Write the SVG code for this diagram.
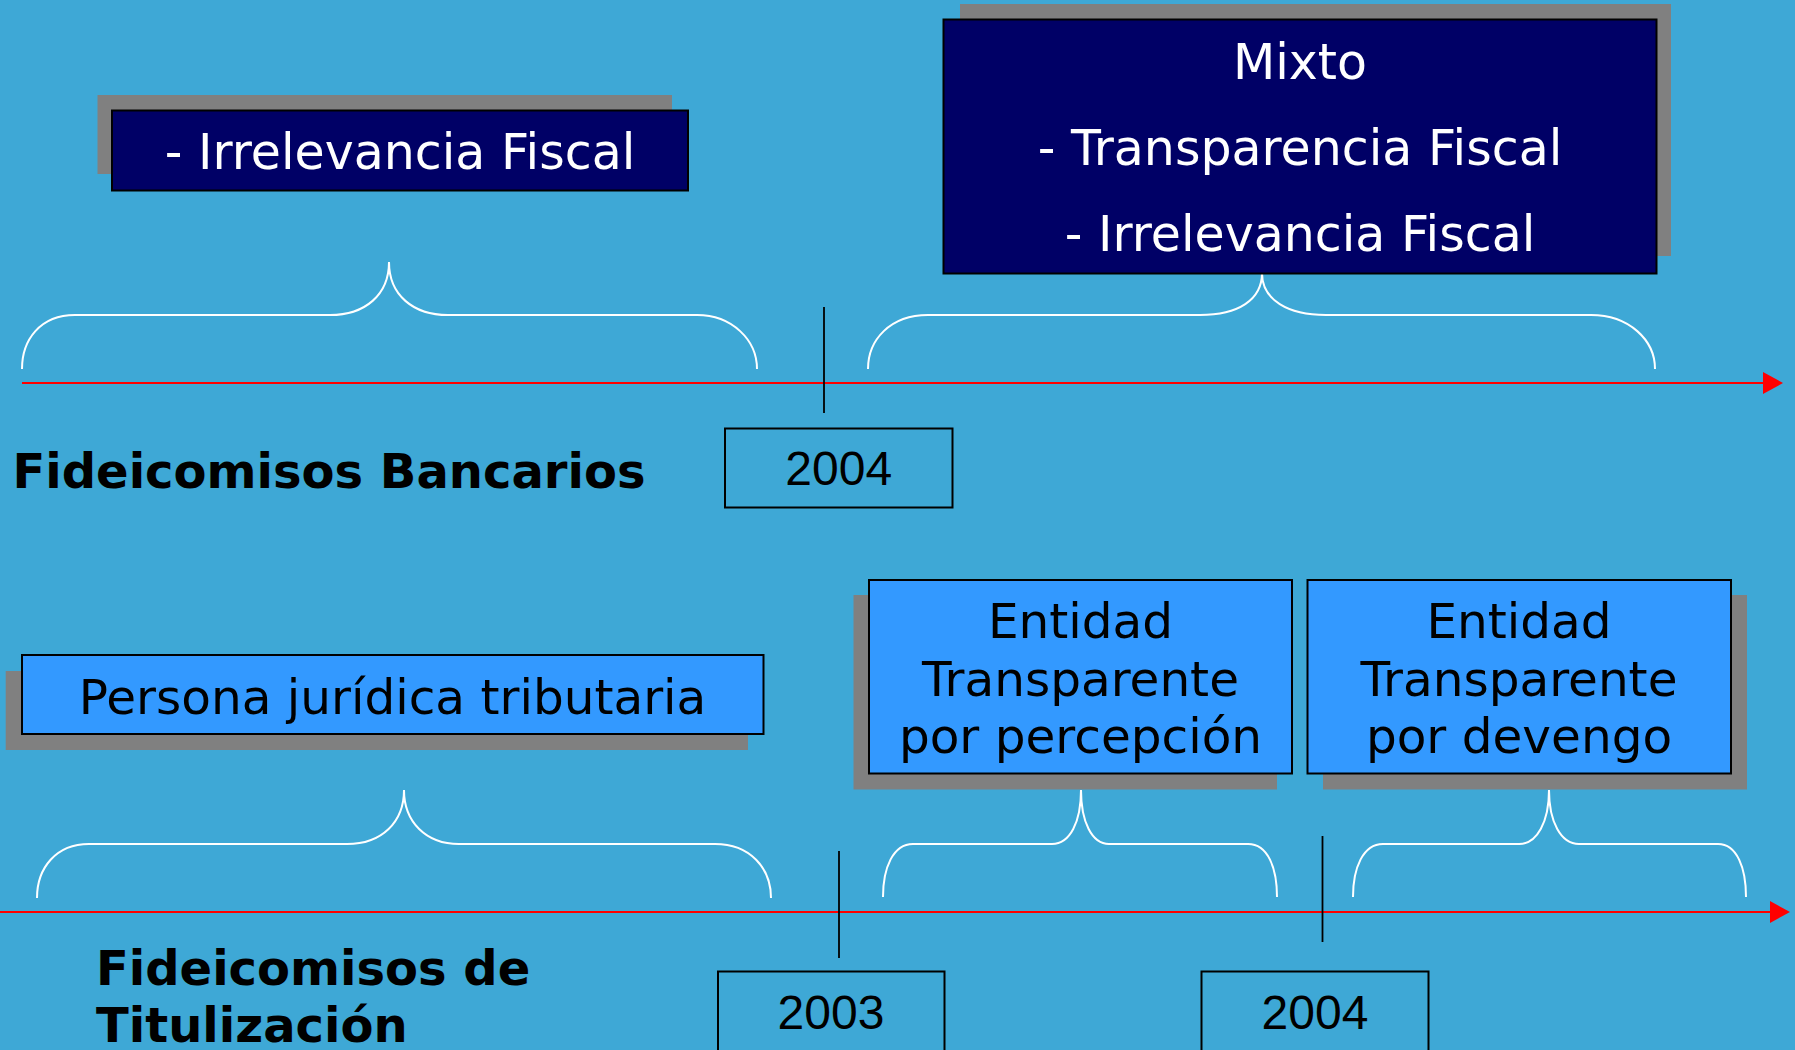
<svg xmlns="http://www.w3.org/2000/svg" width="1795" height="1050" viewBox="0 0 1795 1050">
<style>
.shadow{fill:#808080}
.navy{fill:#000066;stroke:#000;stroke-width:2}
.light{fill:#3399FF;stroke:#000;stroke-width:2}
.year{fill:none;stroke:#000;stroke-width:2}
.wt{font-family:"DejaVu Sans",Verdana,sans-serif;font-size:49px;fill:#fff;text-anchor:middle}
.bt{font-family:"DejaVu Sans",Verdana,sans-serif;font-size:48.5px;fill:#000;text-anchor:middle}
.yt{font-family:"Liberation Sans",Arial,sans-serif;font-size:48px;fill:#000;text-anchor:middle}
.title{font-family:"DejaVu Sans",Verdana,sans-serif;font-size:48px;font-weight:bold;fill:#000}
.axis{stroke:#FF0000;stroke-width:2;fill:none}
.tick{stroke:#000;stroke-width:1.8;fill:none}
.brace{stroke:#fff;stroke-width:2;fill:none}
</style>
<defs>
<marker id="arrow" markerUnits="userSpaceOnUse" markerWidth="20" markerHeight="22" refX="0" refY="11" orient="auto">
<path d="M0,0 L20,11 L0,22 z" fill="#FF0000"/>
</marker>
</defs>
<rect x="0" y="0" width="1795" height="1050" fill="#3EA8D6"/>

<g id="connectors">
<line class="axis" x1="22" y1="383" x2="1763" y2="383" marker-end="url(#arrow)"/>
<line class="axis" x1="0" y1="912" x2="1770" y2="912" marker-end="url(#arrow)"/>
<line class="tick" x1="824" y1="307" x2="824" y2="413"/>
<line class="tick" x1="839" y1="851" x2="839" y2="958"/>
<line class="tick" x1="1322.5" y1="836" x2="1322.5" y2="942"/>
<path class="brace" d="M22,369 C22,340 40,315 75,315 H330 C365,315 389,295 389,262 C389,295 413,315 448,315 H697 C732,315 757,340 757,369"/>
<path class="brace" d="M868,369 C868,340 890,315 928,315 H1200 C1238,315 1262,300 1262,273 C1262,300 1288,315 1326,315 H1591 C1629,315 1655,340 1655,369"/>
<path class="brace" d="M37,898 C37,868 56,844 89,844 H347 C382,844 404,822 404,790 C404,822 426,844 459,844 H715 C750,844 771,868 771,898"/>
<path class="brace" d="M883,897 C883,868 893,844 913,844 H1052 C1070,844 1081,822 1081,790 C1081,822 1092,844 1109,844 H1248 C1268,844 1277,868 1277,897"/>
<path class="brace" d="M1353,897 C1353,868 1363,844 1383,844 H1519 C1537,844 1549,822 1549,790 C1549,822 1561,844 1579,844 H1718 C1737,844 1746,868 1746,897"/>
</g>

<g id="node-irrelevancia">
<rect class="shadow" x="97.5" y="95" width="574.5" height="79"/>
<rect class="navy" x="112" y="110.5" width="576" height="80"/>
<text class="wt" x="400" y="169">- Irrelevancia Fiscal</text>
</g>

<g id="node-mixto">
<rect class="shadow" x="960" y="4" width="711" height="252"/>
<rect class="navy" x="943.5" y="19.5" width="713" height="254"/>
<text class="wt" x="1300" y="79">Mixto</text>
<text class="wt" x="1300" y="165">- Transparencia Fiscal</text>
<text class="wt" x="1300" y="251">- Irrelevancia Fiscal</text>
</g>

<g id="node-year-2004-bancarios">
<rect class="year" x="725" y="428.5" width="227.5" height="79"/>
<text class="yt" x="838.7" y="485">2004</text>
</g>

<g id="node-title-bancarios">
<text class="title" x="12.5" y="488">Fideicomisos Bancarios</text>
</g>

<g id="node-persona">
<rect class="shadow" x="5.7" y="671" width="742.3" height="79"/>
<rect class="light" x="22" y="655" width="741.5" height="79"/>
<text class="bt" x="392.5" y="714">Persona jurídica tributaria</text>
</g>

<g id="node-percepcion">
<rect class="shadow" x="853.5" y="595" width="423.5" height="194.5"/>
<rect class="light" x="869" y="580" width="423" height="193.5"/>
<text class="bt" x="1080.5" y="638">Entidad</text>
<text class="bt" x="1080.5" y="696">Transparente</text>
<text class="bt" x="1080.5" y="752.5">por percepción</text>
</g>

<g id="node-devengo">
<rect class="shadow" x="1323" y="595" width="424" height="194.5"/>
<rect class="light" x="1307.5" y="580" width="423.5" height="193.5"/>
<text class="bt" x="1519" y="638">Entidad</text>
<text class="bt" x="1519" y="696">Transparente</text>
<text class="bt" x="1519" y="752.5">por devengo</text>
</g>

<g id="node-year-2003">
<rect class="year" x="718" y="971.5" width="226.5" height="100"/>
<text class="yt" x="831" y="1029">2003</text>
</g>

<g id="node-year-2004-titulizacion">
<rect class="year" x="1201.5" y="971.5" width="227" height="100"/>
<text class="yt" x="1315" y="1029">2004</text>
</g>

<g id="node-title-titulizacion">
<text class="title" x="96" y="984.5">Fideicomisos de</text>
<text class="title" x="96" y="1042">Titulización</text>
</g>
</svg>
